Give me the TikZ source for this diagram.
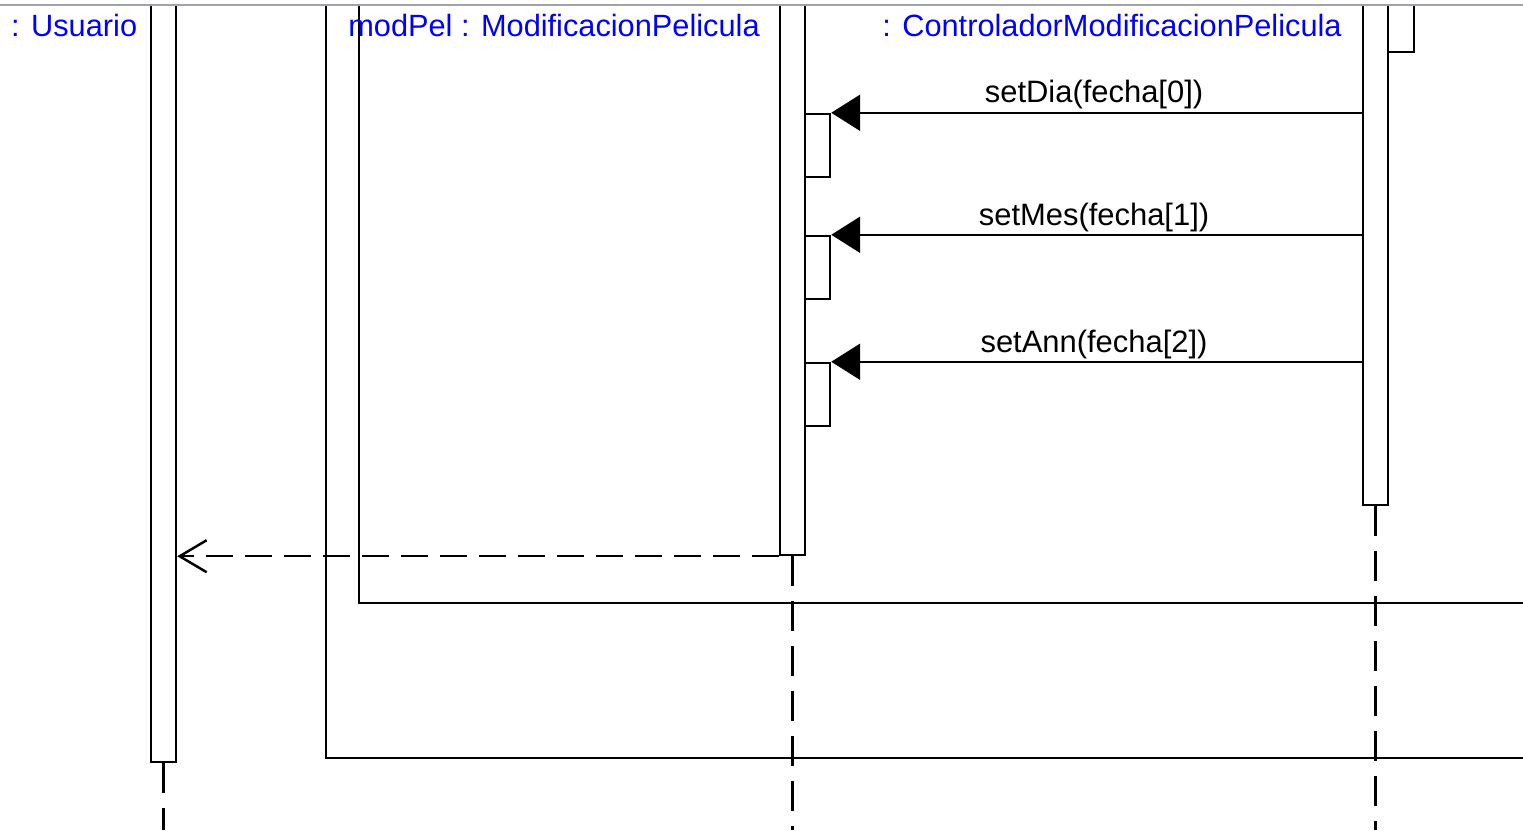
\documentclass[tikz,border=0pt]{standalone}
\usepackage{fontspec}
\setmainfont{Liberation Sans}
\usetikzlibrary{arrows.meta}

\begin{document}
\begin{tikzpicture}[line width=1.4pt]
\tikzstyle{bar}=[rectangle,draw,fill=white,inner sep=0pt,minimum width=0.5cm]
\tikzstyle{obj}=[text=blue,font=\fontsize{17.5}{20}\selectfont,anchor=base,inner sep=0pt]
\tikzstyle{msgtext}=[font=\fontsize{17.6}{20}\selectfont,anchor=base,inner sep=0pt]
\tikzstyle{msg}=[-{Triangle[length=0.58cm,width=0.72cm]}]
\tikzstyle{ret}=[dash pattern=on 0.54cm off 0.24cm,-{Straight Barb[length=0.54cm,width=0.64cm]}]
\tikzstyle{life}=[dash pattern=on 0.6cm off 0.3cm]
\definecolor{topgray}{RGB}{160,163,175}

\useasboundingbox (0,0) rectangle (30.46,-16.6);
\coordinate (bot) at (0,-16.6);

% frames
\draw (6.52,-0.1) -- (6.52,-15.16) -- (30.46,-15.16);
\draw (7.18,-0.1) -- (7.18,-12.06) -- (30.46,-12.06);

% activation bars
\node[bar, minimum height = 15.14cm] (u) at (3.27,-7.67) {};
\node[bar, minimum height = 11cm] (mp) at (15.85,-5.6) {};
\node[bar, minimum height = 10cm] (ctl) at (27.51,-5.1) {};
\node[bar, minimum width = 0.52cm, minimum height = 0.94cm] (c0) at (28.02,-0.57) {};

\node[bar, minimum height = 1.26cm] (a1) at (16.35,-2.91) {};
\node[bar, minimum height = 1.26cm] (a2) at (16.35,-5.35) {};
\node[bar, minimum height = 1.26cm] (a3) at (16.35,-7.89) {};

% lifelines
\draw[life] (u.south) -- (u.south |- bot);
\draw[life] (mp.south) -- (mp.south |- bot);
\draw[life] (ctl.south) -- (ctl.south |- bot);

% messages
\draw[msg] (a1.north east -| ctl.west) -- (a1.north east);
\draw[msg] (a2.north east -| ctl.west) -- (a2.north east);
\draw[msg] (a3.north east -| ctl.west) -- (a3.north east);
\node[msgtext] (m1) at (21.88,-2.06) {setDia(fecha[0])};
\node[msgtext] (m2) at (21.88,-4.5) {setMes(fecha[1])};
\node[msgtext] (m3) at (21.88,-7.04) {setAnn(fecha[2])};

\draw[ret] (mp.south west) -- (u.east |- mp.south west);

% object names
\node[obj,anchor=base west] (lu) at (0.2,-0.74) {: Usuario};
\node[obj] (lmp) at (11.08,-0.74) {modPel : ModificacionPelicula};
\node[obj] (lctl) at (22.24,-0.74) {: ControladorModificacionPelicula};

\draw[topgray, line width=1.4pt] (0,-0.1) -- (30.46,-0.1);
\end{tikzpicture}
\end{document}
